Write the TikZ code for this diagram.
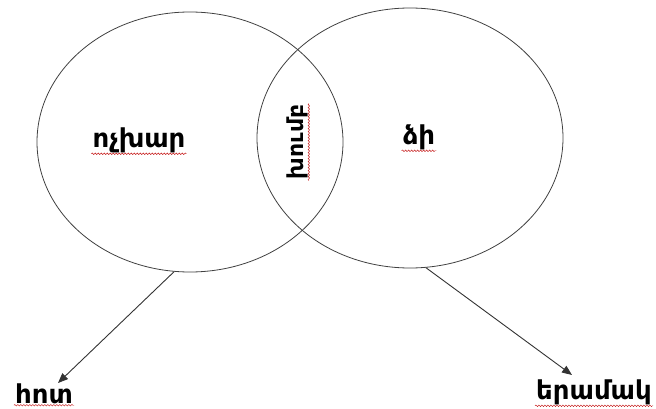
\documentclass[tikz,border=0pt]{standalone}
\usepackage{fontspec}
\setmainfont{DejaVu Sans}[BoldFont={DejaVu Sans Bold}]
\usetikzlibrary{shapes.geometric,arrows.meta,decorations.pathmorphing}

\begin{document}
\begin{tikzpicture}[x=1pt,y=-1pt,
  set/.style={draw=black!75, line width=0.8pt, ellipse, inner sep=0pt, minimum width=306pt, minimum height=260pt},
  word/.style={font=\bfseries\fontsize{26}{30}\selectfont, inner sep=1pt},
  link/.style={draw=black!80, line width=0.9pt, -{Triangle[length=10pt,width=8pt]}},
  spell/.style={draw=red!75!black, line width=0.4pt, decorate, decoration={snake,amplitude=0.8pt,segment length=3pt}}]
  \useasboundingbox (0,0) rectangle (656,409);
  \node[set] (sheep set) at (190,142) {};
  \node[set] (horse set) at (410,138) {};
  \node[word] (sheep) at (139,140) {ոչխար};
  \node[word] (horse) at (419,137) {ձի};
  \node[word, font=\bfseries\fontsize{22}{26}\selectfont, rotate=90] (group) at (297,142) {խումբ};
  \node[word] (flock) at (44,394) {հոտ};
  \node[word] (herd) at (594,392) {երամակ};
  \coordinate (flock tip) at (58,383);
  \coordinate (herd tip) at (572,375);
  \draw[link] (sheep set.263) -- (flock tip);
  \draw[link] (horse set.277) -- (herd tip);
  % spell-check squiggles
  \foreach \w in {sheep,horse,group,flock,herd}
    \draw[spell] (\w.south west) -- (\w.south east);
\end{tikzpicture}
\end{document}
